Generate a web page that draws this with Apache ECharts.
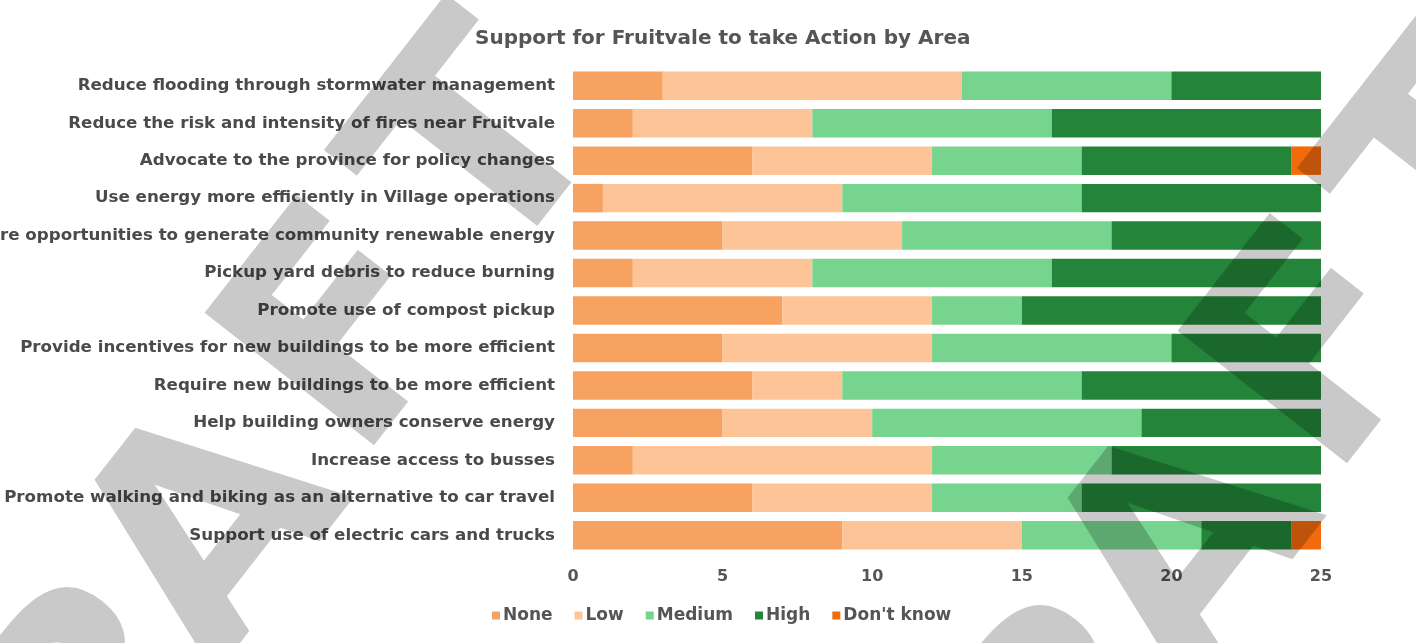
<!DOCTYPE html>
<html>
<head>
<meta charset="utf-8">
<title>Support for Fruitvale to take Action by Area</title>
<script src="https://cdn.jsdelivr.net/npm/echarts@6/dist/echarts.min.js"></script>
<style>
  html, body { margin: 0; padding: 0; background: #fff; }
  #barChart { width: 1416px; height: 643px; }
</style>
</head>
<body>
<div id="barChart"></div>
<script>
// categories, top to bottom
const categories = [
  'Reduce flooding through stormwater management',
  'Reduce the risk and intensity of fires near Fruitvale',
  'Advocate to the province for policy changes',
  'Use energy more efficiently in Village operations',
  'Explore opportunities to generate community renewable energy',
  'Pickup yard debris to reduce burning',
  'Promote use of compost pickup',
  'Provide incentives for new buildings to be more efficient',
  'Require new buildings to be more efficient',
  'Help building owners conserve energy',
  'Increase access to busses',
  'Promote walking and biking as an alternative to car travel',
  'Support use of electric cars and trucks'
];

// responses per level (same order as categories)
const noneValues     = [3, 2, 6, 1, 5, 2, 7, 5, 6, 5, 2, 6, 9];
const lowValues      = [10, 6, 6, 8, 6, 6, 5, 7, 3, 5, 10, 6, 6];
const mediumValues   = [7, 8, 5, 8, 7, 8, 3, 8, 8, 9, 6, 5, 6];
const highValues     = [5, 9, 7, 8, 7, 9, 10, 5, 8, 6, 7, 8, 3];
const dontKnowValues = [0, 0, 1, 0, 0, 0, 0, 0, 0, 0, 0, 0, 1];

const xTicks = [0, 5, 10, 15, 20, 25];

const levelNames  = ['None', 'Low', 'Medium', 'High', "Don't know"];
const levelColors = ['#F8A262', '#FCC497', '#77D48E', '#23843A', '#F36A0C'];
const levelData   = [noneValues, lowValues, mediumValues, highValues, dontKnowValues];

const labelFont = '"DejaVu Sans", sans-serif';

// "DRAFT" watermark, one letter at a time so the spacing can be tight
const watermarkLetters = ['D', 'R', 'A', 'F', 'T'];
const watermarkSpots = [[-5, 905], [115, 713], [224, 539], [359, 340], [494, 157]];
const watermark = (dx, dy) => watermarkLetters.map((ch, i) => ({
  type: 'text',
  x: watermarkSpots[i][0] + dx,
  y: watermarkSpots[i][1] + dy,
  rotation: 52 * Math.PI / 180,
  z: 100,
  silent: true,
  style: { text: ch, font: 'bold 295px "DejaVu Sans"', fill: 'rgba(0,0,0,0.21)', align: 'center', verticalAlign: 'middle' }
}));

const renderBarChart = () => {
  const el = document.getElementById('barChart');
  const chart = echarts.init(el);

  const option = {
    animation: false,
    color: levelColors,
    title: {
      text: 'Support for Fruitvale to take Action by Area',
      left: 470,
      top: 24,
      textStyle: { color: '#555', fontSize: 20, fontWeight: 'bold', fontFamily: labelFont }
    },
    legend: {
      data: levelNames,
      bottom: 14,
      left: 487,
      itemWidth: 8,
      itemHeight: 8,
      itemGap: 22,
      icon: 'rect',
      textStyle: { color: '#555', fontSize: 17, fontWeight: 'bold', fontFamily: labelFont, padding: [0, 0, 0, -2] }
    },
    // keep the plot where it is even if a long label runs off the left edge
    grid: { left: 573, right: 95, top: 67, bottom: 89, containLabel: false, outerBoundsMode: 'none' },
    xAxis: {
      type: 'value',
      min: xTicks[0],
      max: xTicks[xTicks.length - 1],
      interval: 5,
      axisLine: { show: false },
      axisTick: { show: false },
      splitLine: { show: false },
      axisLabel: { color: '#555', fontSize: 16, fontWeight: 'bold', fontFamily: labelFont, margin: 15 }
    },
    yAxis: {
      type: 'category',
      inverse: true,
      data: categories,
      axisLine: { show: false },
      axisTick: { show: false },
      axisLabel: { color: '#4a4a4a', fontSize: 16.7, fontWeight: 'bold', fontFamily: labelFont, margin: 18 }
    },
    series: levelNames.map((name, i) => ({
      name: name,
      type: 'bar',
      stack: 'total',
      barCategoryGap: '24%',
      data: levelData[i]
    })),
    graphic: watermark(0, 0).concat(watermark(973, 18))
  };

  chart.setOption(option);
};

renderBarChart();
</script>
</body>
</html>
